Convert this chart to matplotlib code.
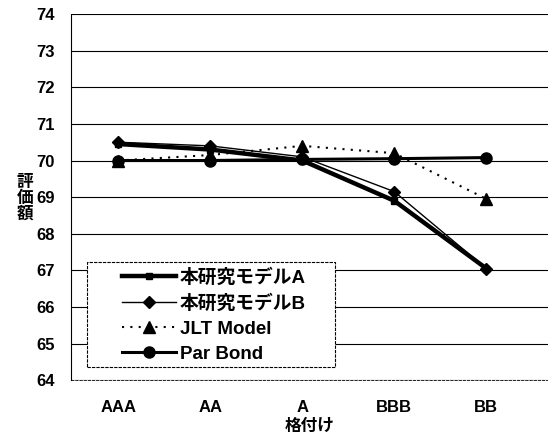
import matplotlib.pyplot as plt
from matplotlib.patches import Rectangle
import numpy as np

plt.rcParams['font.family'] = ['Liberation Sans', 'Noto Sans CJK JP']

ratings = ["AAA", "AA", "A", "BBB", "BB"]
model_a = [70.45, 70.3, 70.0, 68.9, 67.05]
model_b = [70.5, 70.4, 70.1, 69.15, 67.05]
jlt = [70.0, 70.15, 70.4, 70.2, 68.95]
par_bond = [70.0, 70.0, 70.03, 70.05, 70.08]
y_ticks = list(range(64, 75))

fig = plt.figure(figsize=(5.48, 4.4), dpi=100)
ax = fig.add_axes([0.130, 0.136, 0.870, 0.832])

x = np.arange(len(ratings))
ax.plot(x, model_a, color='black', lw=3.2, marker='s', ms=5, label='本研究モデルA', zorder=4)
ax.plot(x, model_b, color='black', lw=1.0, marker='D', ms=6, label='本研究モデルB', zorder=5)
ax.plot(x, jlt, color='black', lw=1.5, ls=(0, (1, 3)), marker='^', ms=8, label='JLT Model', zorder=3)
ax.plot(x, par_bond, color='black', lw=2.2, marker='o', ms=8, label='Par Bond', zorder=3)

ax.set_xlim(-0.51, 4.67)
ax.set_ylim(64, 74)
ax.set_yticks(y_ticks)
ax.set_xticks(x)
ax.set_xticklabels(ratings, fontsize=12, fontweight='bold')
ax.set_yticklabels([str(v) for v in y_ticks], fontsize=12, fontweight='bold')
ax.tick_params(length=0, pad=12)
ax.tick_params(axis='x', pad=14)
ax.grid(axis='y', color='black', lw=0.8)
ax.set_axisbelow(True)
for side in ['top', 'right']:
    ax.spines[side].set_visible(False)
ax.spines['left'].set_linewidth(0.8)
ax.spines['left'].set_linestyle((0, (4, 1)))
ax.spines['bottom'].set_linewidth(0.6)
ax.spines['bottom'].set_linestyle((0, (3, 2)))

ax.set_xlabel('格付け', fontsize=12, fontweight='bold', labelpad=3)
fig.text(0.046, 0.55, '評\n価\n額', fontsize=12, fontweight='bold', ha='center', va='center',
         linespacing=1.05)

# legend frame drawn by hand (figure pixels: x 87-335, y 262-367)
frame = Rectangle((87 / 548, 1 - 367 / 440), 248 / 548, 105 / 440, transform=fig.transFigure,
                  facecolor='white', edgecolor='black', lw=0.8, ls=(0, (3, 1)), zorder=6,
                  clip_on=False)
ax.add_patch(frame)
leg = ax.legend(loc='upper left', bbox_to_anchor=(122 / 548, 1 - 268 / 440),
                bbox_transform=fig.transFigure, prop={'size': 13.5, 'weight': 'bold'},
                frameon=False, handlelength=2.9, handletextpad=0.2, borderpad=0,
                labelspacing=0.42, borderaxespad=0)
leg.set_zorder(7)

fig.savefig('out.png', dpi=100)
